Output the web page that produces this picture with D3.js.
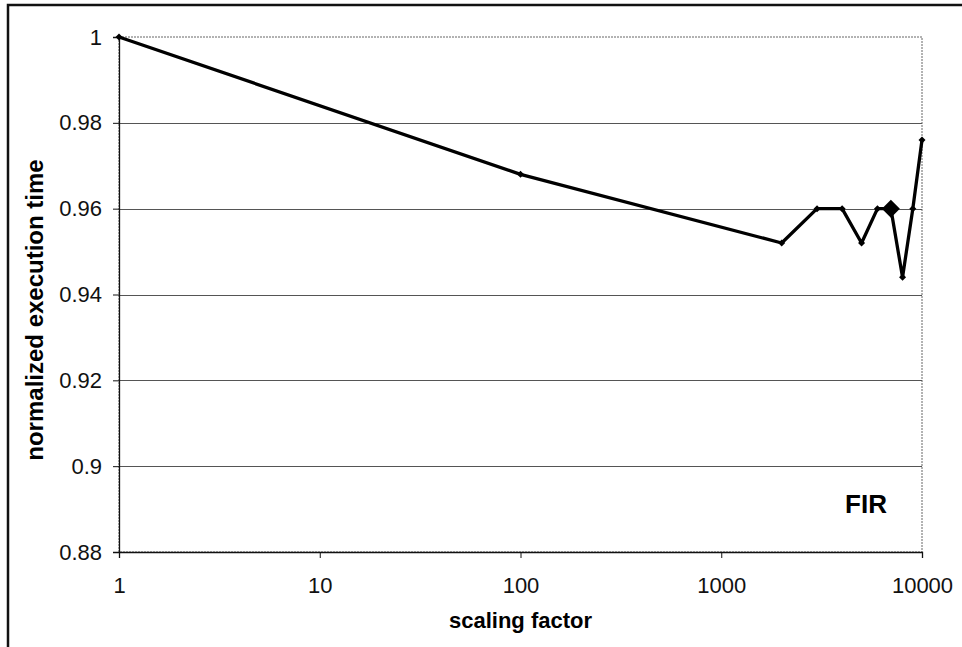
<!DOCTYPE html>
<html>
<head>
<meta charset="utf-8">
<script src="https://cdn.jsdelivr.net/npm/d3@7"></script>
<style>
  html, body { margin: 0; padding: 0; background: #fff; }
  svg { display: block; font-family: Arial, "Liberation Sans", sans-serif; }
</style>
</head>
<body>
<svg id="chart" width="962" height="647"></svg>
<script>
// Scaling factors and the normalized execution time measured at each one
const scalingFactors = [1, 100, 2000, 3000, 4000, 5000, 6000, 7000, 8000, 9000, 10000];
const execTimes      = [1, 0.968, 0.952, 0.96, 0.96, 0.952, 0.96, 0.96, 0.944, 0.96, 0.976];
const highlightFactor = 7000;

const xTickValues = [1, 10, 100, 1000, 10000];
const yTickValues = [0.88, 0.9, 0.92, 0.94, 0.96, 0.98, 1];

const xTitle = "scaling factor";
const yTitle = "normalized execution time";
const panelLabel = "FIR";

const svg = d3.select("#chart");
const margin = { left: 119, right: 40, top: 37, bottom: 95 };
const W = 962, H = 647;

const x = d3.scaleLog().domain([1, 10000]).range([margin.left, W - margin.right]);
const y = d3.scaleLinear().domain([0.88, 1]).range([H - margin.bottom, margin.top]);

// outer frame (only top and left edges fall inside the canvas)
svg.append("rect")
  .attr("x", 8).attr("y", 5).attr("width", 1100).attr("height", 800)
  .attr("fill", "none").attr("stroke", "#111").attr("stroke-width", 2.5);

// plot area outline
svg.append("rect")
  .attr("x", x(1)).attr("y", y(1))
  .attr("width", x(10000) - x(1)).attr("height", y(0.88) - y(1))
  .attr("fill", "none").attr("stroke", "#666").attr("stroke-width", 1)
  .attr("stroke-dasharray", "2,1");

// horizontal gridlines
svg.append("g").selectAll("line")
  .data(yTickValues.filter(v => v > 0.88 && v < 1))
  .join("line")
  .attr("x1", x(1)).attr("x2", x(10000))
  .attr("y1", d => Math.round(y(d)) + 0.5).attr("y2", d => Math.round(y(d)) + 0.5)
  .attr("stroke", "#555").attr("stroke-width", 1);

// axes
const fmtY = d => d === 1 ? "1" : d3.format("~g")(d);
const yAxis = svg.append("g")
  .attr("transform", `translate(${x(1)},0)`)
  .call(d3.axisLeft(y).tickValues(yTickValues).tickFormat(fmtY).tickSize(6).tickPadding(11));
const xAxis = svg.append("g")
  .attr("transform", `translate(0,${y(0.88)})`)
  .call(d3.axisBottom(x).tickValues(xTickValues).tickFormat(d3.format("d")).tickSize(6).tickPadding(19));

[xAxis, yAxis].forEach(g => {
  g.select(".domain").attr("stroke", "#111").attr("stroke-width", 1.3);
  g.selectAll(".tick line").attr("stroke", "#111");
  g.selectAll(".tick text")
    .attr("fill", "#111")
    .style("font-size", "22px")
    .style("font-family", "Arial, 'Liberation Sans', sans-serif");
});

// data line
const pts = scalingFactors.map((s, i) => [s, execTimes[i]]);
svg.append("path")
  .datum(pts)
  .attr("fill", "none").attr("stroke", "#000").attr("stroke-width", 3.3)
  .attr("stroke-linejoin", "round")
  .attr("d", d3.line().x(d => x(d[0])).y(d => y(d[1])));

// diamond markers
const diamond = r => `M0,${-r}L${r},0L0,${r}L${-r},0Z`;
svg.append("g").selectAll("path")
  .data(pts)
  .join("path")
  .attr("transform", d => `translate(${x(d[0])},${y(d[1])})`)
  .attr("d", d => diamond(d[0] === highlightFactor ? 9 : 3.5))
  .attr("fill", "#000");

// axis titles
svg.append("text")
  .attr("x", (x(1) + x(10000)) / 2).attr("y", 628)
  .attr("text-anchor", "middle")
  .style("font-size", "22px").style("font-weight", "bold")
  .text(xTitle);

svg.append("text")
  .attr("transform", `translate(43,310) rotate(-90)`)
  .attr("text-anchor", "middle")
  .style("font-size", "24px").style("font-weight", "bold")
  .text(yTitle);

// panel label
svg.append("text")
  .attr("x", 866).attr("y", 513)
  .attr("text-anchor", "middle")
  .style("font-size", "26px").style("font-weight", "bold")
  .text(panelLabel);
</script>
</body>
</html>
